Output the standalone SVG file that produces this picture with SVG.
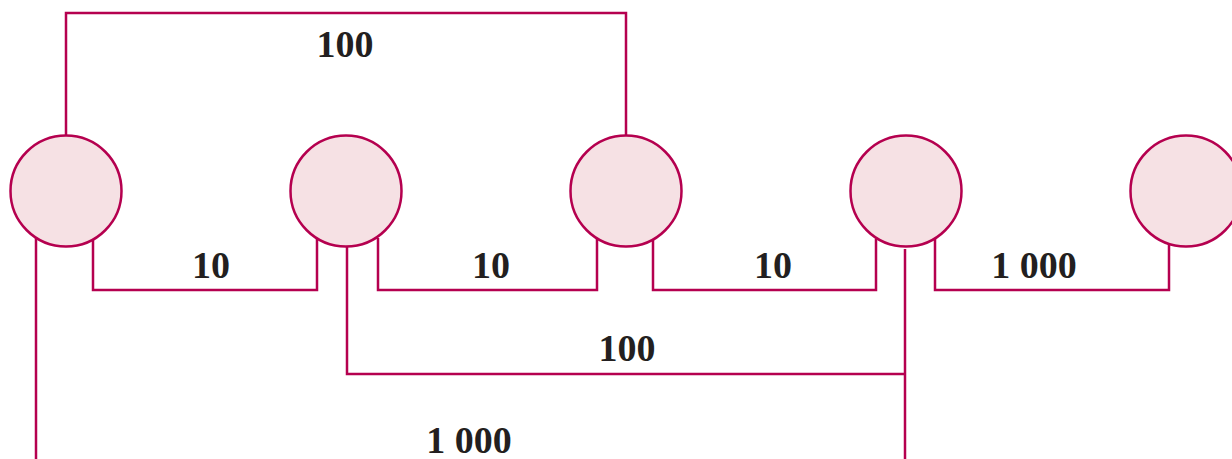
<svg xmlns="http://www.w3.org/2000/svg" width="1232" height="459" viewBox="0 0 1232 459">
<style>
.n{fill:#f6e1e4;stroke:#b5004f;stroke-width:2.5}
.c{fill:none;stroke:#b5004f;stroke-width:2.5}
.t{font-family:"Liberation Serif","DejaVu Serif",serif;font-weight:bold;font-size:38px;fill:#231f20;text-anchor:middle}
</style>
<rect width="1232" height="459" fill="#fff"/>
<g id="connectors">
<polyline class="c" points="66,136 66,13 626,13 626,136"/>
<polyline class="c" points="93,239 93,290 317,290 317,238"/>
<polyline class="c" points="378,238 378,290 597,290 597,239"/>
<polyline class="c" points="653,239 653,290 876,290 876,239"/>
<polyline class="c" points="935,236 935,290 1169,290 1169,244"/>
<polyline class="c" points="347,247 347,374 905,374"/>
<line class="c" x1="905" y1="249" x2="905" y2="459"/>
<line class="c" x1="36" y1="237" x2="36" y2="459"/>
<text class="t" x="345" y="57">100</text>
<text class="t" x="211" y="278">10</text>
<text class="t" x="491" y="278">10</text>
<text class="t" x="773" y="278">10</text>
<text class="t" x="1034" y="278">1 000</text>
<text class="t" x="627" y="361">100</text>
<text class="t" x="469" y="453">1 000</text>
</g>
<g id="n1"><circle class="n" cx="66" cy="191" r="55.5"/></g>
<g id="n2"><circle class="n" cx="346" cy="191" r="55.5"/></g>
<g id="n3"><circle class="n" cx="626" cy="191" r="55.5"/></g>
<g id="n4"><circle class="n" cx="906" cy="191" r="55.5"/></g>
<g id="n5"><circle class="n" cx="1186" cy="191" r="55.5"/></g>
</svg>
